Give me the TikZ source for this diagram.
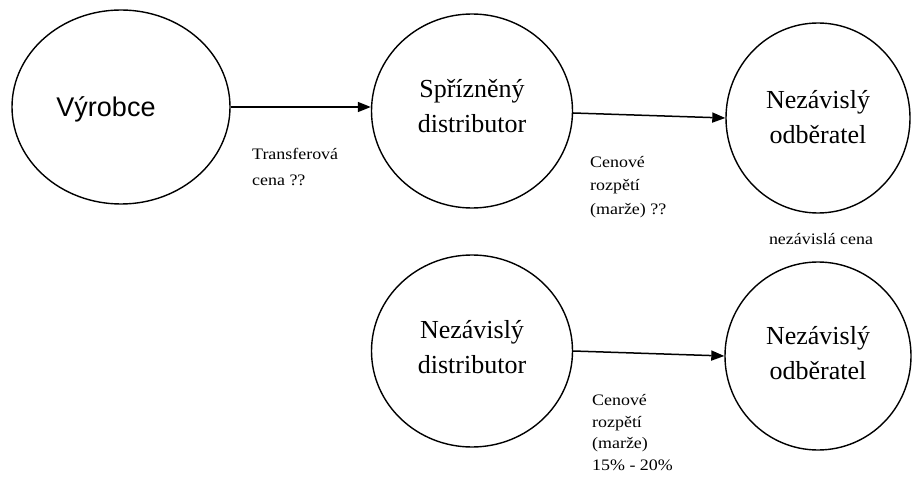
\documentclass[tikz,border=0pt]{standalone}
\usepackage{fontspec}
\setmainfont{Liberation Serif}
\newfontfamily\mysans{Liberation Sans}
\newfontfamily\lblfont[FakeStretch=1.12]{Liberation Serif}
\usetikzlibrary{shapes.geometric,arrows.meta}
\begin{document}
\begin{tikzpicture}[x=1pt,y=-1pt,
  party/.style={draw,ellipse,line width=1.4pt,inner sep=0pt},
  inner/.style={align=center,font=\fontsize{26}{35}\selectfont},
  flow/.style={line width=1.5pt,-{Triangle[length=13pt,width=10pt]}},
  lbl/.style={anchor=north west,inner sep=0pt,align=left}]
\path[use as bounding box,fill=white] (0,0) rectangle (912,481);
\node[party,minimum width=218pt,minimum height=194pt,
  label={[font=\mysans\fontsize{27}{32}\selectfont,xshift=-15pt,yshift=-2pt]center:Výrobce}] (vyr) at (121,107) {};
\node[party,minimum width=201pt,minimum height=194pt,
  label={[inner,yshift=5pt]center:Spřízněný\\distributor}] (spr) at (472,111) {};
\node[party,minimum width=184pt,minimum height=190pt,
  label={[inner,yshift=1pt]center:Nezávislý\\odběratel}] (odb1) at (818,118) {};
\node[party,minimum width=201pt,minimum height=192pt,
  label={[inner,yshift=4pt]center:Nezávislý\\distributor}] (nez) at (472,351) {};
\node[party,minimum width=186pt,minimum height=188pt,
  label={[inner,yshift=3pt]center:Nezávislý\\odběratel}] (odb2) at (818,356) {};
\draw[flow] (vyr.east) -- (vyr.east -| spr.west);
\draw[flow] ([yshift=-2pt]spr.east) -- (odb1.west);
\draw[flow] (nez.east) -- (odb2.west);
\node[lbl,font=\lblfont\fontsize{16}{26}\selectfont] (t1) at (252,148) {Transferová\\cena ??};
\node[lbl,font=\lblfont\fontsize{16}{23.5}\selectfont] (t2) at (590,156) {Cenové\\rozpětí\\(marže) ??};
\node[inner sep=0pt,font=\lblfont\fontsize{16}{20}\selectfont] (t3) at (821,239) {nezávislá cena};
\node[lbl,font=\lblfont\fontsize{16}{21.7}\selectfont] (t4) at (592,394) {Cenové\\rozpětí\\(marže)\\15\% - 20\%};
\end{tikzpicture}
\end{document}
